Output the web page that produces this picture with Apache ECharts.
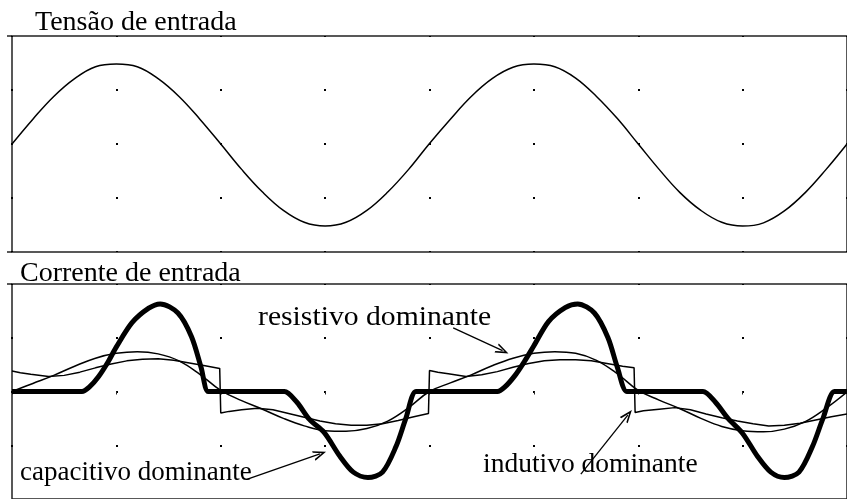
<!DOCTYPE html>
<html>
<head>
<meta charset="utf-8">
<script src="https://cdn.jsdelivr.net/npm/echarts@6/dist/echarts.min.js"></script>
<style>
html,body{margin:0;padding:0;background:#fff;}
#chart{width:847px;height:499px;}
</style>
</head>
<body>
<div id="chart"></div>
<script>
// ---- data (time in divisions, amplitude in divisions) ----
const voltageTime = [0,0.2,0.4,0.6,0.8,1.0,1.2,1.4,1.6,1.8,2.0,2.2,2.4,2.6,2.8,3.0,3.2,3.4,3.6,3.8,
  4.0,4.2,4.4,4.6,4.8,5.0,5.2,5.4,5.6,5.8,6.0,6.2,6.4,6.6,6.8,7.0,7.2,7.4,7.6,7.8,8.0];
const voltageValues = [0,0.46,0.88,1.21,1.43,1.48,1.43,1.21,0.88,0.46,0,-0.47,-0.89,-1.23,-1.45,-1.52,-1.45,-1.23,-0.89,-0.47,
  0.01,0.46,0.88,1.21,1.42,1.48,1.43,1.22,0.88,0.47,0,-0.47,-0.9,-1.23,-1.45,-1.52,-1.46,-1.24,-0.9,-0.47,0];

const capTime = [0,0.6,0.67,0.74,0.83,0.92,1.0,1.15,1.31,1.42,1.59,1.72,1.81,1.88,1.95,
  2.54,2.61,2.73,2.85,2.99,3.14,3.27,3.41,3.55,3.68,3.77,3.87,3.94,
  4.58,4.65,4.72,4.82,4.91,5.0,5.14,5.30,5.42,5.58,5.71,5.80,5.89,5.96,
  6.55,6.62,6.74,6.86,7.0,7.14,7.27,7.40,7.54,7.67,7.77,7.88,7.95,8.0];
const capValues = [0,0,0,0.08,0.28,0.55,0.83,1.28,1.55,1.63,1.46,1.02,0.46,0,0,
  0,0,-0.2,-0.52,-0.76,-1.2,-1.5,-1.6,-1.5,-1.02,-0.52,0,0,
  0,0,0.08,0.3,0.56,0.85,1.3,1.56,1.63,1.46,1.0,0.45,0,0,
  0,0,-0.2,-0.5,-0.78,-1.2,-1.5,-1.6,-1.5,-1.02,-0.5,0,0,0];

const resTime = [0,0.2,0.4,0.6,0.8,1.0,1.2,1.4,1.6,1.8,2.0,2.2,2.4,2.6,2.8,3.0,3.2,3.4,3.6,3.8,
  4.0,4.2,4.4,4.6,4.8,5.0,5.2,5.4,5.6,5.8,6.0,6.2,6.4,6.6,6.8,7.0,7.2,7.4,7.6,7.8,8.0];
const resValues = [0,0.15,0.3,0.47,0.62,0.71,0.74,0.7,0.57,0.32,0.02,-0.17,-0.33,-0.5,-0.64,-0.73,-0.74,-0.69,-0.55,-0.3,
  0,0.16,0.31,0.48,0.62,0.71,0.74,0.71,0.58,0.33,0.02,-0.16,-0.32,-0.5,-0.65,-0.73,-0.75,-0.7,-0.56,-0.31,-0.01];

const indTime = [0,0.08,0.18,0.35,0.5,0.65,0.8,0.95,1.1,1.25,1.4,1.55,1.7,1.85,1.99,
  2.0,2.08,2.2,2.35,2.5,2.65,2.8,2.95,3.1,3.25,3.4,3.55,3.7,3.85,3.99,
  4.0,4.08,4.18,4.35,4.5,4.65,4.8,4.95,5.1,5.25,5.4,5.55,5.7,5.85,5.96,
  5.97,6.05,6.2,6.35,6.5,6.65,6.8,6.95,7.1,7.25,7.4,7.55,7.7,7.85,8.0];
const indValues = [0.38,0.35,0.32,0.28,0.3,0.36,0.44,0.51,0.57,0.6,0.61,0.58,0.53,0.48,0.43,
  -0.4,-0.37,-0.34,-0.31,-0.34,-0.41,-0.48,-0.55,-0.6,-0.63,-0.63,-0.6,-0.54,-0.47,-0.41,
  0.39,0.36,0.33,0.28,0.31,0.37,0.45,0.52,0.57,0.59,0.59,0.57,0.52,0.47,0.44,
  -0.39,-0.36,-0.33,-0.3,-0.34,-0.42,-0.49,-0.55,-0.6,-0.64,-0.63,-0.59,-0.53,-0.47,-0.42];

const panelTitles = ['Tensão de entrada', 'Corrente de entrada'];
const annotationTexts = ['resistivo dominante', 'capacitivo dominante', 'indutivo dominante'];
// arrows: [startTime, startValue, endTime, endValue]
const arrows = [
  [4.227, 1.185, 4.70, 0.76],
  [2.256, -1.63, 2.95, -1.16],
  [5.45, -1.537, 5.90, -0.44]
];

// ---- chart ----
const pair = (xs, ys) => xs.map((x, i) => [x, ys[i]]);
const FONT = '"Liberation Serif", "Times New Roman", serif';
const chevron = 'path://M0,12 L5,0 L10,12 L8.3,12 L5,4 L1.7,12 Z';

const chart = echarts.init(document.getElementById('chart'), null, {renderer: 'canvas'});

const gridBase = {left: 12, width: 844, height: 216, show: true, borderColor: '#222', borderWidth: 1.5, backgroundColor: 'transparent'};
function xAxisFor(gi, ticks) {
  return {
    type: 'value', gridIndex: gi, min: 0, max: 8, interval: 1, position: 'top',
    axisLine: {show: false}, axisLabel: {show: false},
    axisTick: {show: ticks, inside: true, length: 3, lineStyle: {color: '#222', width: 1}},
    splitLine: {show: true, lineStyle: {color: '#000', width: 2, type: [2, 52], dashOffset: 1}}
  };
}
function yAxisFor(gi) {
  return {
    type: 'value', gridIndex: gi, min: -2, max: 2, interval: 1,
    axisLine: {show: false}, axisLabel: {show: false}, axisTick: {show: false}, splitLine: {show: false}
  };
}

const thin = {color: '#000', width: 1.5};
const stub = (y) => ({type: 'line', shape: {x1: 7, y1: y, x2: 12, y2: y}, style: {stroke: '#222', lineWidth: 1.5}, silent: true});

chart.setOption({
  animation: false,
  backgroundColor: '#fff',
  grid: [Object.assign({top: 36}, gridBase), Object.assign({top: 284}, gridBase)],
  xAxis: [xAxisFor(0, false), xAxisFor(1, true)],
  yAxis: [yAxisFor(0), yAxisFor(1)],
  series: [
    {type: 'line', xAxisIndex: 0, yAxisIndex: 0, data: pair(voltageTime, voltageValues),
     symbol: 'none', smooth: 0.4, lineStyle: thin, silent: true},
    {type: 'line', xAxisIndex: 1, yAxisIndex: 1, data: pair(capTime, capValues),
     symbol: 'none', smooth: 0.3, lineStyle: {color: '#000', width: 5}, silent: true},
    {type: 'line', xAxisIndex: 1, yAxisIndex: 1, data: pair(resTime, resValues),
     symbol: 'none', smooth: 0.4, lineStyle: thin, silent: true,
     markLine: {
       silent: true, symbol: ['none', chevron], symbolSize: [10, 13],
       label: {show: false}, lineStyle: {color: '#000', width: 1.3, type: 'solid'},
       emphasis: {disabled: true},
       data: arrows.map(a => [{coord: [a[0], a[1]]}, {coord: [a[2], a[3]]}])
     }},
    {type: 'line', xAxisIndex: 1, yAxisIndex: 1, data: pair(indTime, indValues),
     symbol: 'none', smooth: false, lineStyle: thin, silent: true}
  ],
  graphic: [
    stub(36), stub(252), stub(284),
    {type: 'text', x: 35, y: 23, style: {text: panelTitles[0], font: '28px ' + FONT, fill: '#000', verticalAlign: 'middle'}},
    {type: 'text', x: 20, y: 274, style: {text: panelTitles[1], font: '28px ' + FONT, fill: '#000', verticalAlign: 'middle'}},
    {type: 'text', x: 258, y: 318, scaleX: 1.06, style: {text: annotationTexts[0], font: '28px ' + FONT, fill: '#000', verticalAlign: 'middle'}},
    {type: 'text', x: 20, y: 473, style: {text: annotationTexts[1], font: '27px ' + FONT, fill: '#000', verticalAlign: 'middle'}},
    {type: 'text', x: 483, y: 465, style: {text: annotationTexts[2], font: '27.5px ' + FONT, fill: '#000', verticalAlign: 'middle'}}
  ]
});
</script>
</body>
</html>
